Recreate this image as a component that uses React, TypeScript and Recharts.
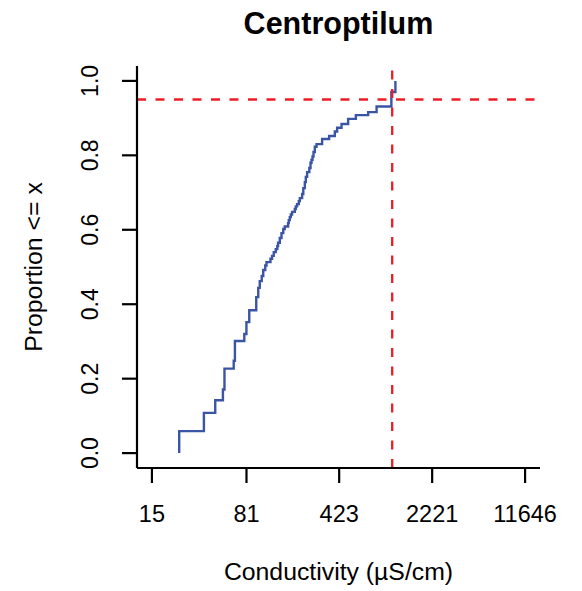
import React from 'react';
import { LineChart, Line, XAxis, YAxis, ReferenceLine } from 'recharts';

// conductivity (µS/cm) at each step of the ECDF, and the cumulative proportion after it
const conductivity = [
    24.4, 37.9, 46.4, 53.2, 54.7, 64.5, 65.9, 77.9, 80.9, 85.1,
    96.4, 99.9, 102.6, 106.3, 109.2, 113.2, 115.7, 124.2, 127.8, 131.7,
    136.5, 140.3, 142.3, 146.7, 151.2, 156.1, 160.3, 170.1, 172.2, 175.3,
    178.5, 182.7, 191.7, 195.1, 199.7, 205.9, 209.6, 218.4, 223.1, 229.2,
    233.3, 238.8, 248.3, 253.7, 258.3, 263.0, 267.6, 273.9, 282.4, 312.0,
    353.6, 391.5, 407.9, 441.2, 496.4, 569.7, 709.4, 824.4, 1073, 1153,
];
const proportion = [
    0.059, 0.108, 0.142, 0.171, 0.227, 0.248, 0.301, 0.32, 0.352, 0.384,
    0.419, 0.444, 0.462, 0.476, 0.492, 0.504, 0.513, 0.522, 0.53, 0.54,
    0.548, 0.556, 0.565, 0.578, 0.591, 0.602, 0.609, 0.618, 0.626, 0.634,
    0.641, 0.648, 0.656, 0.663, 0.669, 0.677, 0.685, 0.696, 0.712, 0.728,
    0.742, 0.755, 0.766, 0.78, 0.788, 0.797, 0.809, 0.823, 0.83, 0.844,
    0.852, 0.864, 0.874, 0.884, 0.898, 0.908, 0.916, 0.931, 0.97, 1.0,
];

const xTickLabels = [15, 81, 423, 2221, 11646];
const yTicks = [0, 0.2, 0.4, 0.6, 0.8, 1.0];
const xc95 = 1089;
const cutoffProportion = 0.95;

const FONT = '"Liberation Sans", Arial, Helvetica, sans-serif';

const data = [{ x: Math.log(conductivity[0]), y: 0 }].concat(
    conductivity.map((c, i) => ({ x: Math.log(c), y: proportion[i] }))
);

const lo = Math.log(xTickLabels[0]);
const hi = Math.log(xTickLabels[xTickLabels.length - 1]);
const pad = (hi - lo) * 0.04;

const YTick = (props: any) => {
    const { y, payload } = props;
    return (
        <text
            x={98}
            y={y}
            transform={`rotate(-90, 98, ${y})`}
            textAnchor="middle"
            fontFamily={FONT}
            fontSize={23}
            fill="#000"
        >
            {payload.value.toFixed(1)}
        </text>
    );
};

const App: React.FC = () => {
    return (
        <div style={{ position: 'absolute', left: 0, top: 0, width: 582, height: 591, background: '#fff' }}>
            <LineChart
                width={582}
                height={591}
                data={data}
                margin={{ top: 66, right: 42, left: 0, bottom: 0 }}
            >
                <XAxis
                    type="number"
                    dataKey="x"
                    domain={[lo - pad, hi + pad]}
                    ticks={xTickLabels.map((v) => Math.log(v))}
                    tickFormatter={(v: number) => String(Math.round(Math.exp(v)))}
                    allowDataOverflow
                    height={123}
                    tickSize={15}
                    tickMargin={22}
                    stroke="#000"
                    strokeWidth={2.2}
                    tick={{ fontFamily: FONT, fontSize: 23.5, fill: '#000' }}
                />
                <YAxis
                    type="number"
                    domain={[-0.04, 1.04]}
                    ticks={yTicks}
                    allowDataOverflow
                    width={137}
                    tickSize={15}
                    stroke="#000"
                    strokeWidth={2.2}
                    tick={<YTick />}
                />
                <Line
                    type="stepAfter"
                    dataKey="y"
                    stroke="#3b55a5"
                    strokeWidth={2.4}
                    dot={false}
                    isAnimationActive={false}
                />
                <ReferenceLine y={cutoffProportion} stroke="#ed1c24" strokeWidth={2.3} strokeDasharray="9 9.5" />
                <ReferenceLine x={Math.log(xc95)} stroke="#ed1c24" strokeWidth={2.3} strokeDasharray="9 9.5" />
            </LineChart>
            <svg width={582} height={591} style={{ position: 'absolute', left: 0, top: 0, pointerEvents: 'none' }}>
                <text x={338.5} y={33.5} textAnchor="middle" fontFamily={FONT} fontSize={30.5} fontWeight="bold" fill="#000">
                    Centroptilum
                </text>
                <text x={338.5} y={580} textAnchor="middle" fontFamily={FONT} fontSize={24.8} fill="#000">
                    Conductivity (µS/cm)
                </text>
                <text
                    x={42}
                    y={267}
                    transform="rotate(-90, 42, 267)"
                    textAnchor="middle"
                    fontFamily={FONT}
                    fontSize={24.8}
                    fill="#000"
                >
                    {'Proportion <= x'}
                </text>
            </svg>
        </div>
    );
};

export default App;
